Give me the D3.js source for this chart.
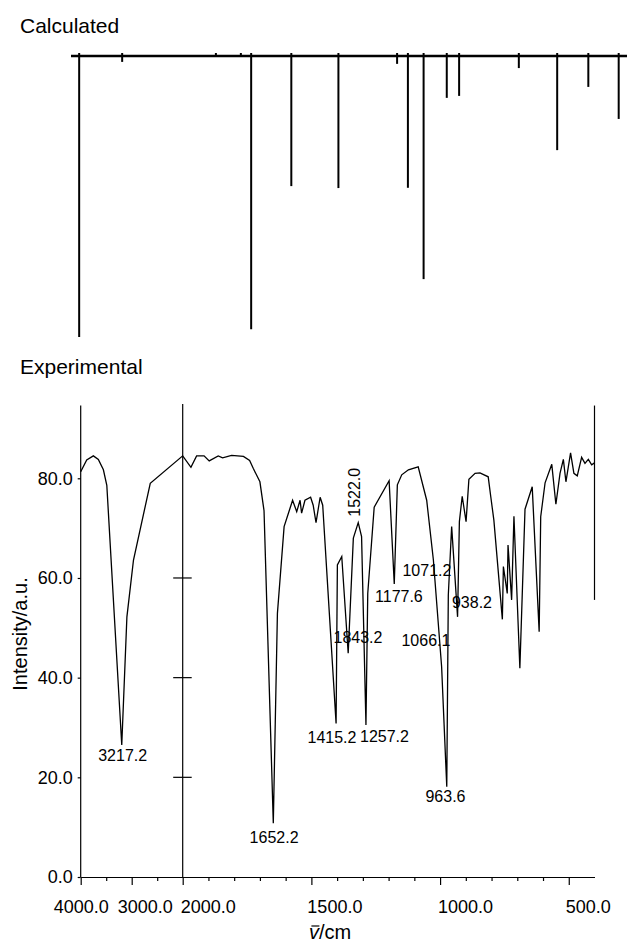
<!DOCTYPE html>
<html>
<head>
<meta charset="utf-8">
<script src="https://cdn.jsdelivr.net/npm/d3@7"></script>
<style>
  body { margin: 0; background: #fff; }
  svg text { font-family: "Liberation Sans", Arial, Helvetica, sans-serif; fill: #000; }
</style>
</head>
<body>
<div id="chart"></div>
<script>
// calculated stick spectrum (wavenumber, relative intensity)
var calcWn  = [4030, 3187, 1871, 1774, 1734, 1578, 1395, 1167, 1125, 1064, 974, 926, 694, 545, 424, 306];
var calcInt = [100, 2.1, 0.3, 0.3, 97.2, 46.3, 47.0, 2.8, 46.9, 79.4, 14.9, 14.2, 4.3, 33.5, 11.0, 22.4];

// experimental spectrum
var expWn = [4000, 3882, 3752, 3654, 3555, 3488, 3195, 3094, 2965, 2636,
  2000, 1968, 1946, 1917, 1897, 1862, 1845, 1810, 1764, 1740, 1726, 1700, 1684,
  1648, 1632, 1606, 1583, 1573, 1557, 1544, 1538, 1525, 1503, 1493, 1482, 1466, 1456,
  1404, 1399, 1382, 1357, 1337, 1318, 1305, 1288, 1281, 1256, 1198, 1178, 1166, 1149,
  1123, 1085, 1052, 1026, 994, 974, 968, 955, 932, 925, 914, 899, 888, 864, 845,
  813, 803, 791, 758, 754, 739, 736, 722, 713, 690, 670, 642, 615, 609, 592,
  566, 550, 534, 521, 511, 493, 480, 467, 450, 437, 424, 411, 400];
var expInt = [81.3, 83.7, 84.5, 83.8, 81.7, 78.6, 26.5, 52.2, 63.6, 79.0,
  84.5, 82.2, 84.5, 84.5, 83.5, 84.5, 84.1, 84.6, 84.4, 83.6, 82.0, 79.3, 73.5,
  10.8, 52.9, 70.3, 74.0, 75.6, 73.3, 75.6, 73.0, 75.6, 76.2, 74.6, 71.1, 76.2, 74.6,
  30.8, 62.6, 64.3, 44.9, 68.0, 71.1, 68.3, 30.5, 56.9, 74.2, 79.5, 58.8, 78.7, 80.7,
  81.7, 82.3, 75.6, 63.6, 42.2, 18.1, 56.6, 70.3, 52.2, 71.3, 76.4, 71.3, 79.8, 81.0, 81.1,
  80.3, 76.3, 71.6, 51.7, 62.3, 56.9, 66.6, 55.6, 72.4, 41.9, 73.8, 78.3, 49.2, 72.3, 79.1,
  82.8, 74.8, 81.0, 83.8, 79.3, 85.1, 81.0, 80.5, 84.2, 83.0, 83.8, 82.7, 83.1];

// peak annotations: text and where it sits (wavenumber, intensity)
var peakText = ["3217.2", "1652.2", "1415.2", "1257.2", "963.6", "1843.2", "1177.6", "1071.2", "1066.1", "938.2"];
var peakWn   = [3177, 1645, 1420, 1216, 979, 1319, 1160, 1051, 1055, 876];
var peakVal  = [23.3, 6.8, 26.9, 27.1, 15.1, 46.9, 55.2, 60.4, 46.4, 53.9];
var vertText = "1522.0", vertWn = 1331, vertVal = 77.2;

// axis ticks
var xMajor = [4000, 3000, 2000, 1500, 1000, 500];
var xMinor = [3500, 2500, 1900, 1800, 1700, 1600, 1400, 1300, 1200, 1100, 900, 800, 700, 600];
var yTicks = [0, 20, 40, 60, 80];
var breakTicks = [20, 40, 60];

var svgWidth = 627;
var svgHeight = 943;

var svg = d3.select("#chart")
    .append("svg")
    .attr("width", svgWidth)
    .attr("height", svgHeight);

// broken x axis: 4000-2000 squeezed, 2000-400 wide
var x = d3.scaleLinear()
    .domain([4000, 2000, 400])
    .range([80.7, 182.7, 594.5]);

var yCalc = d3.scaleLinear().domain([0, 100]).range([56, 337]);
var yExp = d3.scaleLinear().domain([0, 80]).range([877, 478.3]);
var yTop = 94.6;

// ---------- Calculated ----------
svg.append("text")
    .attr("x", 20)
    .attr("y", 32.5)
    .style("font-size", "21px")
    .text("Calculated");

svg.append("line")
    .attr("x1", 71).attr("x2", svgWidth)
    .attr("y1", yCalc(0)).attr("y2", yCalc(0))
    .attr("stroke", "#000")
    .attr("stroke-width", 2.6);

svg.append("g").selectAll("line")
    .data(calcWn)
    .enter()
    .append("line")
    .attr("x1", d => x(d))
    .attr("x2", d => x(d))
    .attr("y1", yCalc(0) - 3)
    .attr("y2", (d, i) => yCalc(calcInt[i]))
    .attr("stroke", "#000")
    .attr("stroke-width", 2);

// ---------- Experimental ----------
svg.append("text")
    .attr("x", 20)
    .attr("y", 374)
    .style("font-size", "21px")
    .text("Experimental");

var frame = svg.append("g")
    .attr("stroke", "#000")
    .attr("stroke-width", 1.2);

// left axis, break line, right end line
frame.append("line")
    .attr("x1", x(4000)).attr("x2", x(4000))
    .attr("y1", yExp(yTop)).attr("y2", yExp(0));
frame.append("line")
    .attr("x1", x(2000)).attr("x2", x(2000))
    .attr("y1", yExp(yTop) - 1.5).attr("y2", yExp(0));
frame.append("line")
    .attr("x1", x(400)).attr("x2", x(400))
    .attr("y1", yExp(yTop)).attr("y2", yExp(55.6));

frame.selectAll(".brk")
    .data(breakTicks)
    .enter()
    .append("line")
    .attr("x1", x(2000) - 9.5).attr("x2", x(2000) + 9)
    .attr("y1", d => yExp(d)).attr("y2", d => yExp(d));

// y axis
var leftAxis = d3.axisLeft(yExp)
    .tickValues(yTicks)
    .tickSize(3)
    .tickSizeOuter(0)
    .tickPadding(5)
    .tickFormat(d3.format(".1f"));

var yG = svg.append("g")
    .attr("transform", `translate(${x(4000)},0)`)
    .call(leftAxis);
yG.select(".domain").remove();
yG.selectAll("text").style("font-size", "18px");
yG.selectAll("line").attr("stroke-width", 1.2);

// x axis, major + minor
var bottomAxis = d3.axisBottom(x)
    .tickValues(xMajor)
    .tickSize(8)
    .tickSizeOuter(0)
    .tickFormat(d3.format(".1f"));

var xG = svg.append("g")
    .attr("transform", `translate(0,${yExp(0)})`)
    .call(bottomAxis);
xG.select(".domain").attr("stroke-width", 1.2);
xG.selectAll("line").attr("stroke-width", 1.2);

// labels nudged so the squeezed part does not collide
var labelDx = { 4000: 0, 3000: 13, 2000: 25, 1500: 23, 1000: 25, 500: 19 };
xG.selectAll("text")
    .style("font-size", "18px")
    .attr("y", 23)
    .attr("dy", "0.71em")
    .attr("dx", d => labelDx[d]);

var minorAxis = d3.axisBottom(x)
    .tickValues(xMinor)
    .tickSize(4)
    .tickSizeOuter(0)
    .tickFormat("");

var mG = svg.append("g")
    .attr("transform", `translate(0,${yExp(0)})`)
    .call(minorAxis);
mG.select(".domain").remove();
mG.selectAll("line").attr("stroke-width", 1.2);

// the spectrum
var spectrum = expWn.map((w, i) => [w, expInt[i]]);
var line = d3.line()
    .x(d => x(d[0]))
    .y(d => yExp(d[1]));

svg.append("path")
    .datum(spectrum)
    .attr("d", line)
    .attr("fill", "none")
    .attr("stroke", "#000")
    .attr("stroke-width", 1.3)
    .attr("stroke-linejoin", "miter");

// peak labels
svg.append("g").selectAll("text")
    .data(peakText)
    .enter()
    .append("text")
    .attr("x", (d, i) => x(peakWn[i]))
    .attr("y", (d, i) => yExp(peakVal[i]))
    .attr("text-anchor", "middle")
    .style("font-size", "16px")
    .text(d => d);

svg.append("text")
    .attr("transform", `translate(${x(vertWn)},${yExp(vertVal)}) rotate(-90)`)
    .attr("text-anchor", "middle")
    .attr("dy", "0.35em")
    .style("font-size", "16px")
    .text(vertText);

// axis titles
svg.append("text")
    .attr("transform", "translate(27,634) rotate(-90)")
    .attr("text-anchor", "middle")
    .style("font-size", "20px")
    .text("Intensity/a.u.");

var xt = svg.append("text")
    .attr("x", 330)
    .attr("y", 939)
    .attr("text-anchor", "middle")
    .style("font-size", "20px");
xt.append("tspan").style("font-style", "italic").text("v");
xt.append("tspan").text("/cm");

// bar over the v (wavenumber)
var vBox = xt.node().getExtentOfChar(0);
svg.append("line")
    .attr("x1", vBox.x + 2.5)
    .attr("x2", vBox.x + vBox.width + 0.5)
    .attr("y1", 926).attr("y2", 926)
    .attr("stroke", "#000")
    .attr("stroke-width", 1.2);
</script>
</body>
</html>
